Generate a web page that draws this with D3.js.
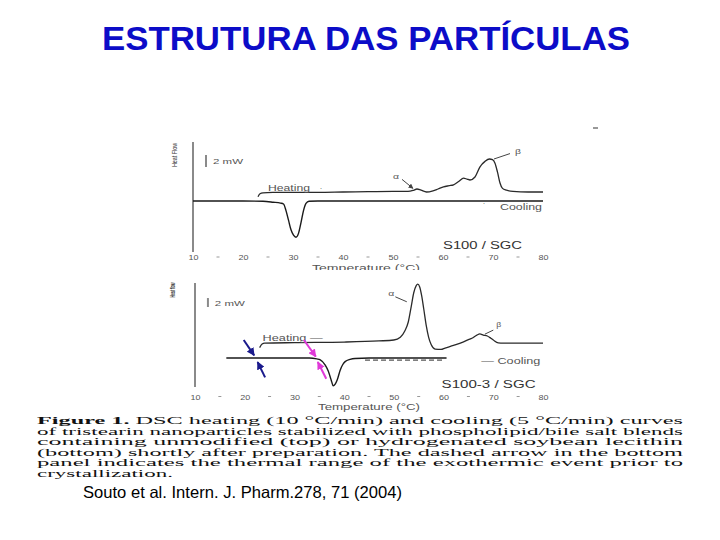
<!DOCTYPE html>
<meta charset="utf-8">
<title>Estrutura das partículas</title>
<script src="https://cdn.jsdelivr.net/npm/d3@7/dist/d3.min.js"></script>
<style>
  body { margin: 0; background: #fff; }
  svg { display: block; }
</style>
<body>
<script>

// DSC curves: [temperature °C, heat flow mW], cooling baseline = 0
var topHeating = [[23.0, 0.7], [23.4, 1.2], [24, 1.35], [26, 1.42], [30, 1.45], [35, 1.45], [40, 1.5],
  [45, 1.55], [50, 1.6], [53, 1.6], [54, 1.75], [54.8, 2.0], [55.6, 1.8], [56.7, 1.5], [58, 1.7],
  [59, 2.0], [60.1, 2.35], [61.2, 2.55], [62.1, 2.7], [63.2, 3.3], [64.1, 3.8], [64.8, 3.65],
  [65.4, 3.5], [66.4, 4.0], [67.4, 5.7], [68.4, 6.6], [69.3, 7.0], [69.9, 6.9], [70.4, 6.3],
  [70.9, 4.8], [71.4, 3.0], [71.9, 2.1], [72.7, 1.8], [74, 1.6], [77, 1.5], [80, 1.5]];

var topCooling = [[10, 0], [20, 0], [24, -0.05], [26, -0.2], [27.5, -0.35], [28.1, -0.5], [28.6, -1.6],
  [29.1, -3.2], [29.6, -4.8], [30.1, -5.7], [30.6, -6.05], [31.1, -5.4], [31.6, -3.6], [32.1, -1.6],
  [32.6, -0.4], [33.2, -0.05], [35, 0], [80, 0]];

var bottomHeating = [[23.0, 2.3], [23.5, 3.1], [24, 3.3], [30, 3.42], [40, 3.55], [47, 3.8], [50, 4.0],
  [51.3, 4.6], [52.2, 6.0], [52.9, 8.0], [53.5, 11.5], [54.0, 14.5], [54.5, 16.1], [54.8, 16.4],
  [55.2, 15.8], [55.6, 13.8], [56.0, 11.0], [56.5, 7.3], [57.0, 4.6], [57.5, 3.0], [58.3, 2.0],
  [59.5, 1.9], [60.3, 2.2], [62, 2.8], [63.9, 3.55], [65, 4.1], [65.7, 4.4], [66.7, 5.1], [67.3, 5.35],
  [68, 5.1], [68.8, 4.9], [69.5, 4.4], [70, 4.0], [71, 3.35], [72, 3.3], [80, 3.3]];

var bottomCooling = [[16.3, 0], [25, 0], [33, 0], [34.5, -0.2], [35.2, -0.4], [36.2, -1.6], [36.8, -2.9],
  [37.2, -4.2], [37.5, -5.3], [37.8, -6.2], [38.2, -5.8], [38.6, -4.9], [39.2, -2.7], [39.7, -1.5],
  [40.2, -0.8], [41.2, -0.3], [42.2, -0.1], [45, 0], [60.6, 0]];

var bottomDashed = [[44.2, -0.45], [60.3, -0.45]];

var tickTemps = [10, 20, 30, 40, 50, 60, 70, 80];
var minorTemps = [15, 25, 35, 45, 55, 65, 75];

// arrows in the bottom panel, [from, to]
var blueArrows = [[[19.8, 4.0], [21.9, 0.6]], [[24.1, -4.3], [22.6, -0.9]]];
var pinkArrows = [[[31.9, 4.0], [34.3, 0.3]], [[36.4, -4.6], [34.7, -0.9]]];

var captionLines = [
  "DSC heating (10 °C/min) and cooling (5 °C/min) curves",
  "of tristearin nanoparticles stabilized with phospholipid/bile salt blends",
  "containing unmodified (top) or hydrogenated soybean lecithin",
  "(bottom) shortly after preparation. The dashed arrow in the bottom",
  "panel indicates the thermal range of the exothermic event prior to",
  "crystallization."
];

var width = 720, height = 540;
var sans = "Arial, 'Liberation Sans', sans-serif";
var serif = "'Times New Roman', 'Liberation Serif', serif";

var svg = d3.select("body").append("svg")
    .attr("width", width)
    .attr("height", height);

var defs = svg.append("defs");
function marker(id, color, size) {
  defs.append("marker")
      .attr("id", id)
      .attr("viewBox", "0 0 10 10")
      .attr("refX", 9).attr("refY", 5)
      .attr("markerWidth", size).attr("markerHeight", size)
      .attr("markerUnits", "userSpaceOnUse")
      .attr("orient", "auto")
    .append("path")
      .attr("d", "M0,0L10,5L0,10z")
      .attr("fill", color);
}
marker("blue", "#1a1a8c", 8);
marker("pink", "#e03ad8", 8);
marker("dark", "#444", 5);

// title
svg.append("text")
    .attr("x", 102).attr("y", 50)
    .attr("textLength", 528)
    .attr("lengthAdjust", "spacingAndGlyphs")
    .style("font", "bold 33px " + sans)
    .attr("fill", "#0c0cc8")
    .text("ESTRUTURA DAS PARTÍCULAS");

// tiny mark top right
svg.append("line")
    .attr("x1", 593).attr("x2", 598).attr("y1", 128).attr("y2", 128)
    .attr("stroke", "#333").attr("stroke-width", 1);

var line = d3.line().curve(d3.curveMonotoneX);

function drawPanel(p) {
  var x = d3.scaleLinear().domain([10, 80]).range([p.left, p.right]);
  var y = d3.scaleLinear().domain(p.q).range([p.bottom, p.top]);
  line.x(function(d) { return x(d[0]); }).y(function(d) { return y(d[1]); });

  var g = svg.append("g");

  // y axis line
  g.append("line")
      .attr("x1", p.left).attr("x2", p.left)
      .attr("y1", p.top).attr("y2", p.bottom)
      .attr("stroke", "#8a8a8a").attr("stroke-width", 2);

  // x tick labels, no visible domain
  var ax = g.append("g")
      .attr("transform", "translate(0," + (p.bottom + p.tickDy) + ")")
      .call(d3.axisBottom(x).tickValues(tickTemps).tickSize(0).tickFormat(d3.format("d")));
  ax.select(".domain").remove();
  ax.selectAll("text")
      .attr("textLength", 10).attr("lengthAdjust", "spacingAndGlyphs")
      .style("font", "7.5px " + sans).attr("fill", "#555");

  g.selectAll(".minor").data(minorTemps).enter().append("line")
      .attr("x1", function(d) { return x(d) - 1.5; })
      .attr("x2", function(d) { return x(d) + 1.5; })
      .attr("y1", p.bottom + p.tickDy + 5).attr("y2", p.bottom + p.tickDy + 5)
      .attr("stroke", "#999").attr("stroke-width", 1);

  var xlab = g.append("text")
      .attr("x", p.xlabX).attr("y", p.bottom + p.xlabDy)
      .attr("textLength", p.xlabW).attr("lengthAdjust", "spacingAndGlyphs")
      .style("font", "9px " + sans).attr("fill", "#555")
      .text("Temperature (°C)");
  if (p.clipLabel) {
    defs.append("clipPath").attr("id", "cut")
      .append("rect").attr("x", 0).attr("y", 0).attr("width", width).attr("height", p.clipLabel);
    xlab.attr("clip-path", "url(#cut)");
  }

  // heat flow label
  g.append("text")
      .attr("transform", "translate(" + p.hfX + "," + p.hfY + ") rotate(-90)")
      .attr("text-anchor", "middle")
      .attr("textLength", p.hfW).attr("lengthAdjust", "spacingAndGlyphs")
      .style("font", p.hfWeight + " 7px " + sans).attr("fill", "#333")
      .text(p.hfText);

  // 2 mW scale bar
  g.append("line")
      .attr("x1", x(12.6)).attr("x2", x(12.6))
      .attr("y1", y(p.barQ)).attr("y2", y(p.barQ + 2))
      .attr("stroke", "#8a8a8a").attr("stroke-width", 2);
  g.append("text")
      .attr("x", x(14)).attr("y", y(p.barQ + 0.5 * 2) + 3)
      .attr("textLength", 30).attr("lengthAdjust", "spacingAndGlyphs")
      .style("font", "7.5px " + sans).attr("fill", "#555")
      .text("2 mW");

  // curves
  g.append("path").datum(p.cool)
      .attr("d", line).attr("fill", "none")
      .attr("stroke", "#1a1a1a").attr("stroke-width", 1.4);
  g.append("path").datum(p.heat)
      .attr("d", line).attr("fill", "none")
      .attr("stroke", "#2a2a2a").attr("stroke-width", 1.3);
  if (p.dashed) {
    g.append("path").datum(p.dashed)
        .attr("d", line).attr("fill", "none")
        .attr("stroke", "#555").attr("stroke-width", 1.2)
        .attr("stroke-dasharray", "5,3");
  }

  // text annotations
  p.labels.forEach(function(l) {
    g.append("text")
        .attr("x", x(l.t)).attr("y", y(l.q))
        .attr("textLength", l.w).attr("lengthAdjust", "spacingAndGlyphs")
        .style("font", l.size + "px " + sans).attr("fill", l.color || "#555")
        .text(l.text);
  });
  p.leaders.forEach(function(a) {
    g.append("line")
        .attr("x1", x(a[0][0])).attr("y1", y(a[0][1]))
        .attr("x2", x(a[1][0])).attr("y2", y(a[1][1]))
        .attr("stroke", "#444").attr("stroke-width", 1)
        .attr("marker-end", a[2] ? "url(#dark)" : null);
  });
  (p.arrows || []).forEach(function(a) {
    g.append("line")
        .attr("x1", x(a.from[0])).attr("y1", y(a.from[1]))
        .attr("x2", x(a.to[0])).attr("y2", y(a.to[1]))
        .attr("stroke", a.color).attr("stroke-width", 2)
        .attr("marker-end", "url(#" + a.id + ")");
  });
}

drawPanel({
  left: 193, right: 543, top: 142, bottom: 252, q: [-8.5, 9.83],
  heat: topHeating, cool: topCooling, tickDy: 0,
  xlabX: 312, xlabDy: 19, xlabW: 108, clipLabel: 270,
  hfX: 177, hfY: 155, hfW: 24, hfText: "Heat Flow", hfWeight: "normal",
  barQ: 5.67,
  labels: [
    {t: 25, q: 1.6, text: "Heating", size: 9, w: 42},
    {t: 25.8 + 9.6, q: 1.6, text: "·", size: 9, w: 2},
    {t: 71.4, q: -1.5, text: "Cooling", size: 9, w: 42},
    {t: 68, q: -0.8, text: "·", size: 9, w: 2},
    {t: 60, q: -8.0, text: "S100 / SGC", size: 10, w: 79, color: "#333"},
    {t: 50, q: 3.6, text: "α", size: 8, w: 6},
    {t: 74.4, q: 7.8, text: "β", size: 8, w: 6}
  ],
  leaders: [
    [[51.8, 3.6], [54.0, 2.1], true],
    [[73.4, 7.9], [70.2, 7.0], false]
  ]
});

drawPanel({
  left: 195, right: 543, top: 283, bottom: 387, q: [-6.44, 16.67],
  heat: bottomHeating, cool: bottomCooling, dashed: bottomDashed, tickDy: 4.5,
  xlabX: 318, xlabDy: 23, xlabW: 102, clipLabel: null,
  hfX: 175, hfY: 290, hfW: 15, hfText: "Heat flow", hfWeight: "bold",
  barQ: 11.33,
  labels: [
    {t: 23.6, q: 3.8, text: "Heating —", size: 9, w: 60},
    {t: 67.6, q: -1.4, text: "— Cooling", size: 9, w: 59},
    {t: 59.6, q: -6.7, text: "S100-3 / SGC", size: 10, w: 94, color: "#333"},
    {t: 48.9, q: 13.8, text: "α", size: 8, w: 6},
    {t: 70.6, q: 6.9, text: "β", size: 8, w: 5}
  ],
  leaders: [
    [[50.3, 13.6], [52.6, 12.5], false],
    [[70.0, 6.2], [68.3, 5.3], false]
  ],
  arrows: blueArrows.map(function(a) { return {from: a[0], to: a[1], color: "#1a1a8c", id: "blue"}; })
    .concat(pinkArrows.map(function(a) { return {from: a[0], to: a[1], color: "#e03ad8", id: "pink"}; }))
});

// figure caption
var cap = svg.append("g").attr("fill", "#111");
var capY = d3.scaleLinear().domain([0, captionLines.length - 1]).range([424, 477]);
captionLines.forEach(function(s, i) {
  var t = cap.append("text")
      .attr("x", 37).attr("y", capY(i))
      .attr("lengthAdjust", "spacingAndGlyphs")
      .attr("textLength", i === captionLines.length - 1 ? 136 : 646)
      .style("font", "10.5px " + serif);
  if (i === 0) {
    t.append("tspan").style("font-weight", "bold").text("Figure 1.");
    t.append("tspan").text("  " + s);
  } else {
    t.text(s);
  }
});

// reference
svg.append("text")
    .attr("x", 83).attr("y", 498)
    .attr("textLength", 319).attr("lengthAdjust", "spacingAndGlyphs")
    .style("font", "16.5px " + sans).attr("fill", "#000")
    .text("Souto et al. Intern. J. Pharm.278, 71 (2004)");

</script>
</body>
